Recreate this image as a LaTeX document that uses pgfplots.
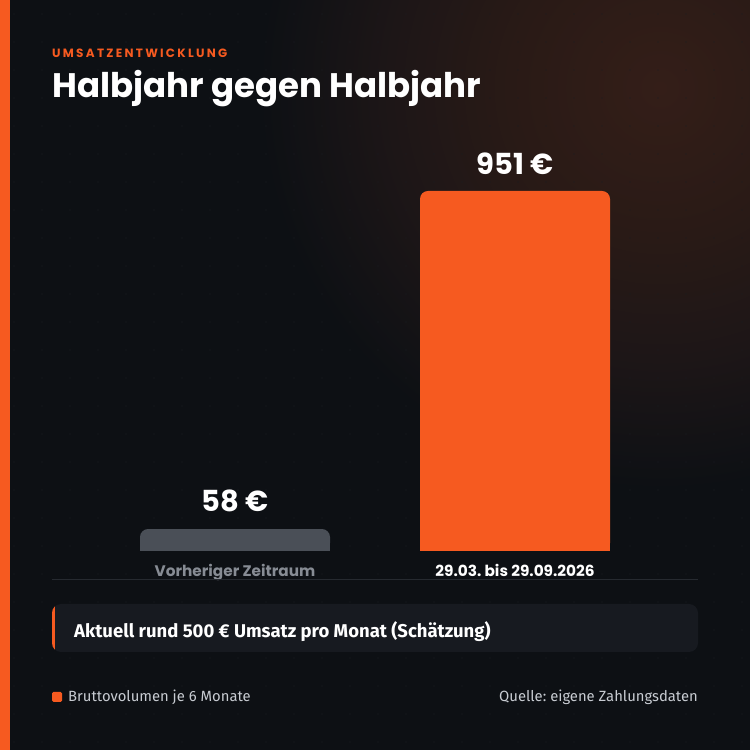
\documentclass[border=0pt]{standalone}
\usepackage{pgfplots}
\pgfplotsset{compat=1.18}
\usepackage{fontspec}
\setmainfont{Poppins}
\newfontfamily\pop{Poppins}
\newfontfamily\popls{Poppins}[LetterSpace=19]
\newfontfamily\fira{Fira Sans}
\definecolor{bgc}{HTML}{0D1014}
\definecolor{glowc}{HTML}{341E18}
\definecolor{glowm}{HTML}{291A16}
\definecolor{glowo}{HTML}{1D1617}
\definecolor{orng}{HTML}{F65A20}
\definecolor{barg}{HTML}{4A4F57}
\definecolor{labg}{HTML}{878C94}
\definecolor{linec}{HTML}{262A30}
\definecolor{boxc}{HTML}{171A20}
\definecolor{legt}{HTML}{C8CCD2}
\definecolor{dotc}{HTML}{1A1D22}
\pgfdeclareradialshading{glow}{\pgfpoint{0bp}{0bp}}{color(0bp)=(glowc); color(150bp)=(glowm); color(270bp)=(glowo); color(400bp)=(bgc); color(410bp)=(bgc)}
\frenchspacing
\begin{document}
\begin{tikzpicture}[x=1pt,y=1pt]
\useasboundingbox (0,0) rectangle (750,750);
\fill[bgc] (0,0) rectangle (750,750);
\begin{scope}
\clip (0,0) rectangle (750,750);
\node[inner sep=0pt, outer sep=0pt] at (660,662) {\pgfuseshading{glow}};
\end{scope}
\foreach \i in {0,...,26} {\foreach \j in {0,...,26} {\fill[dotc] (14+28*\i,736-28*\j) circle (0.7);}}
\fill[orng] (0,0) rectangle (10,750);
% header
\node[anchor=base west, inner sep=0pt, text=orng, font=\popls\bfseries\fontsize{12}{14}\selectfont] at (52,692) {UMSATZENTWICKLUNG};
\node[anchor=base west, inner sep=0pt, text=white, font=\pop\bfseries\fontsize{34}{40}\selectfont] at (52,652) {Halbjahr gegen Halbjahr};
% axis
\begin{axis}[at={(52pt,199pt)}, anchor=south west, scale only axis,
  width=646pt, height=360pt, xmin=52, xmax=698, ymin=0, ymax=951,
  axis line style={draw=none}, tick style={draw=none}, ytick=\empty,
  xtick={235,515},
  xticklabels={{\textcolor{labg}{Vorheriger Zeitraum}},{\textcolor{white}{29.03. bis 29.09.2026}}},
  xticklabel style={anchor=base, yshift=-21pt, inner sep=0pt, font=\pop\bfseries\fontsize{15.3}{18}\selectfont},
  ybar, bar width=190pt, bar shift=0pt, clip=false,
  /pgf/number format/assume math mode=true]
\addplot[ybar, fill=barg, draw=none, rounded corners=8pt,
  nodes near coords={\pgfmathprintnumber{\pgfplotspointmeta}~€},
  every node near coord/.style={anchor=base, yshift=18pt, inner sep=0pt, text=white, font=\pop\bfseries\fontsize{29}{34}\selectfont}]
  coordinates {(235,58)};
\addplot[ybar, fill=barg, draw=none] coordinates {(235,25)};
\addplot[ybar, fill=orng, draw=none, rounded corners=8pt,
  nodes near coords={\pgfmathprintnumber{\pgfplotspointmeta}~€},
  every node near coord/.style={anchor=base, yshift=16pt, inner sep=0pt, text=white, font=\pop\bfseries\fontsize{29}{34}\selectfont}]
  coordinates {(515,951)};
\addplot[ybar, fill=orng, draw=none] coordinates {(515,25)};
\end{axis}
\draw[linec, line width=1pt] (52,170) -- (698,170);
% callout
\fill[boxc, rounded corners=9pt] (52,98) rectangle (698,146);
\begin{scope}
\clip[rounded corners=9pt] (52,98) rectangle (698,146);
\fill[orng] (52,98) rectangle (55,146);
\end{scope}
\node[anchor=base west, inner sep=0pt, text=white, font=\fira\bfseries\fontsize{18.5}{22}\selectfont] at (74,112.5) {Aktuell rund 500 € Umsatz pro Monat (Schätzung)};
% legend
\fill[orng, rounded corners=1.5pt] (52,48) rectangle (62,58);
\node[anchor=base west, inner sep=0pt, text=legt, font=\fira\fontsize{14.8}{17}\selectfont] at (68,48) {Bruttovolumen je 6 Monate};
\node[anchor=base east, inner sep=0pt, text=legt, font=\fira\fontsize{14.8}{17}\selectfont] at (698,48) {Quelle: eigene Zahlungsdaten};
\end{tikzpicture}
\end{document}
